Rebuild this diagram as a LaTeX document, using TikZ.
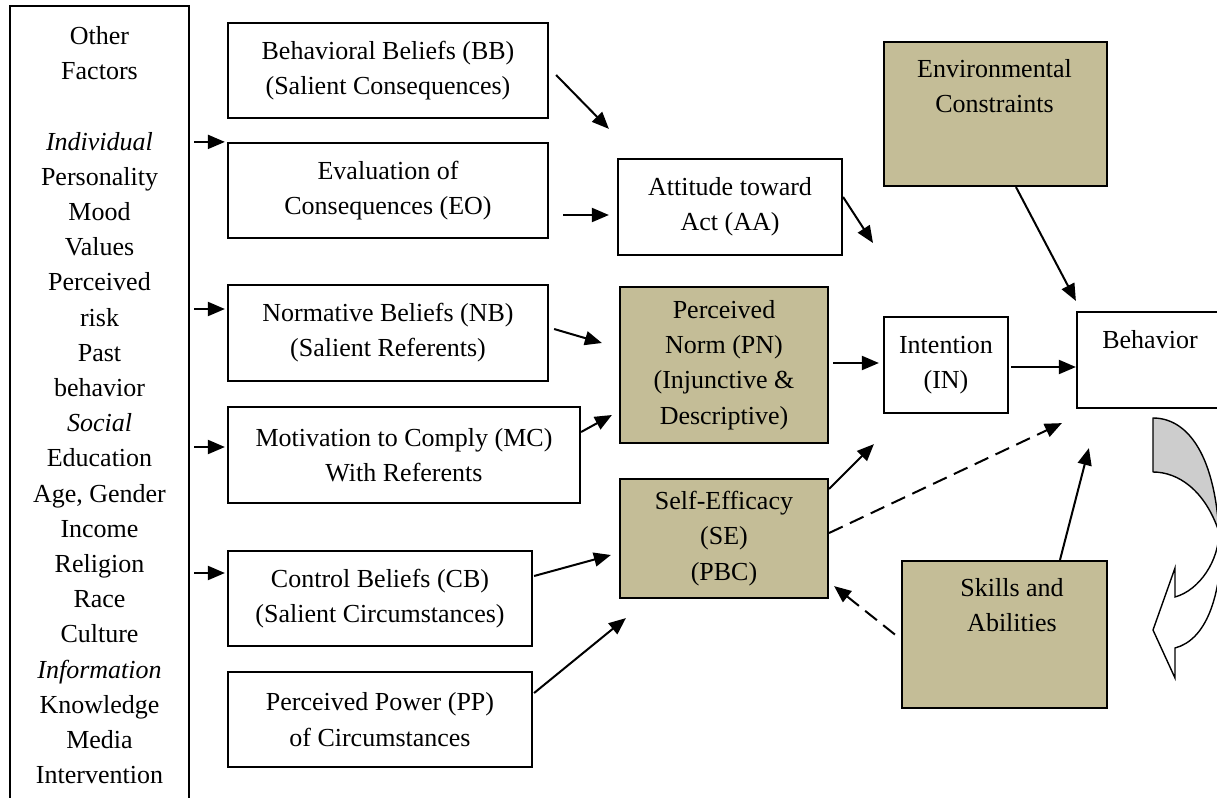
\documentclass[tikz,border=0pt]{standalone}
\usepackage{fontspec}
\setmainfont{Liberation Serif}
\usetikzlibrary{arrows.meta,calc}
\definecolor{tanfill}{HTML}{C4BD97}
\definecolor{backgray}{HTML}{CDCDCD}
\begin{document}
\begin{tikzpicture}[x=0.5pt,y=-0.5pt,
  every node/.style={font=\fontsize{13pt}{17.6pt}\selectfont, align=center, inner sep=0pt},
  plainbox/.style={draw, line width=1.1pt, fill=white},
  tanbox/.style={draw, line width=1.1pt, fill=tanfill},
  arr/.style={line width=1pt, -{Triangle[length=8.5pt,width=7pt]}},
  darr/.style={arr, dash pattern=on 7.5pt off 4pt}]
\useasboundingbox (0,0) rectangle (1217,798);

% left column
\node[plainbox, minimum width=89.5pt, minimum height=397pt] (other) at (99.5,403) {};
\node[anchor=north] (othertxt) at (99.5,26) {Other\\Factors\\[17.6pt]\textit{Individual}\\Personality\\Mood\\Values\\Perceived\\risk\\Past\\behavior\\\textit{Social}\\Education\\Age, Gender\\Income\\Religion\\Race\\Culture\\\textit{Information}\\Knowledge\\Media\\Intervention};

% belief boxes
\node[plainbox, minimum width=160pt, minimum height=47.5pt] (bb) at (388,70.5) {Behavioral Beliefs (BB)\\(Salient Consequences)};
\node[plainbox, minimum width=160pt, minimum height=47.5pt] (eo) at (388,190.5) {Evaluation of\\Consequences (EO)};
\node[plainbox, minimum width=160pt, minimum height=48pt] (nb) at (388,333) {Normative Beliefs (NB)\\(Salient Referents)};
\node[plainbox, minimum width=176pt, minimum height=48pt] (mc) at (404,455) {Motivation to Comply (MC)\\With Referents};
\node[plainbox, minimum width=152pt, minimum height=47.5pt] (cb) at (380,598.5) {Control Beliefs (CB)\\(Salient Circumstances)};
\node[plainbox, minimum width=152pt, minimum height=47.5pt] (pp) at (380,719.5) {Perceived Power (PP)\\of Circumstances};

% middle column
\node[plainbox, minimum width=112pt, minimum height=48pt] (aa) at (730,207) {Attitude toward\\Act (AA)};
\node[tanbox, minimum width=104pt, minimum height=78pt] (pn) at (724,365) {Perceived\\Norm (PN)\\(Injunctive \&\\Descriptive)};
\node[tanbox, minimum width=104pt, minimum height=59.5pt] (se) at (724,538.5) {Self-Efficacy\\(SE)\\(PBC)};

% right part
\node[plainbox, minimum width=62pt, minimum height=48pt] (in) at (946,365) {Intention\\(IN)};
\node[plainbox, minimum width=80pt, minimum height=48pt] (beh) at (1157,360) {};
\node (behtxt) at (1150,340) {Behavior};
\node[tanbox, minimum width=111.5pt, minimum height=72pt] (env) at (995.5,114) {};
\node (envtxt) at (994.5,86.5) {Environmental\\Constraints};
\node[tanbox, minimum width=102.5pt, minimum height=73.5pt] (sk) at (1004.5,634.5) {};
\node (sktxt) at (1012,605) {Skills and\\Abilities};

\coordinate (aaend) at (873,243);
\coordinate (nbin) at ([yshift=12pt]nb.west);
\coordinate (mcin) at ([yshift=4pt]mc.west);
\coordinate (cbin) at ([yshift=12.75pt]cb.west);

% arrows from left column
\draw[arr, shorten <=2pt, shorten >=1pt] (other.east |- eo.north west) -- (eo.north west);
\draw[arr, shorten <=2pt, shorten >=1pt] (other.east |- nbin) -- (nbin);
\draw[arr, shorten <=2pt, shorten >=1pt] (other.east |- mcin) -- (mcin);
\draw[arr, shorten <=2pt, shorten >=1pt] (other.east |- cbin) -- (cbin);

% beliefs to constructs
\draw[arr] ([xshift=3.5pt,yshift=-2.25pt]bb.east) -- ([xshift=-4pt,yshift=14.5pt]aa.north west);
\draw[arr] ([xshift=7pt,yshift=-12.25pt]eo.east) -- ([xshift=-4pt,yshift=-4pt]aa.west);
\draw[arr] ([yshift=5pt]aa.east) -- (aaend);
\draw[arr] ([xshift=2.5pt,yshift=2pt]nb.east) -- ([xshift=-8.5pt,yshift=11pt]pn.west);
\draw[arr] ([yshift=11.5pt]mc.east) -- ([xshift=-3.5pt,yshift=-25pt]pn.west);
\draw[arr] ([xshift=0.5pt,yshift=11.25pt]cb.east) -- ([xshift=-4pt,yshift=-8.25pt]se.west);
\draw[arr] ([xshift=0.5pt,yshift=13.25pt]pp.east) -- ([xshift=3.5pt,yshift=-9.5pt]se.south west);

% to intention and behavior
\draw[arr] ([xshift=2pt,yshift=1pt]pn.east) -- ([xshift=-2pt,yshift=1pt]in.west);
\draw[arr] ([xshift=1pt,yshift=-1pt]in.east) -- ([yshift=-3.5pt]beh.west);
\draw[arr] ([xshift=10.25pt]env.south) -- ([yshift=5pt]beh.north west);
\draw[arr] ([yshift=-5.5pt]se.north east) -- ([xshift=-4.5pt,yshift=-15pt]in.south west);
\draw[darr] ([yshift=2.75pt]se.east) -- ([xshift=-7pt,yshift=-7pt]beh.south west);
\draw[darr] ([xshift=-3pt]sk.west) -- ([xshift=2.5pt,yshift=6.5pt]se.south east);
\draw[arr] ([xshift=27.75pt]sk.north) -- ([xshift=6.5pt,yshift=-19.5pt]beh.south west);

% curved feedback arrow
\filldraw[fill=backgray, line width=0.7pt, line join=round]
  (1153,418) -- (1153,472) .. controls (1178,472) and (1205,490) .. (1219,532)
  .. controls (1214,450) and (1185,418) .. (1153,418) -- cycle;
\filldraw[fill=white, line width=0.7pt, line join=miter]
  (1219,532) .. controls (1219,560) and (1200,590) .. (1175,597)
  -- (1175,568) -- (1153,630) -- (1175,678) -- (1175,648)
  .. controls (1205,640) and (1222,600) .. (1222,530) -- cycle;
\end{tikzpicture}
\end{document}
